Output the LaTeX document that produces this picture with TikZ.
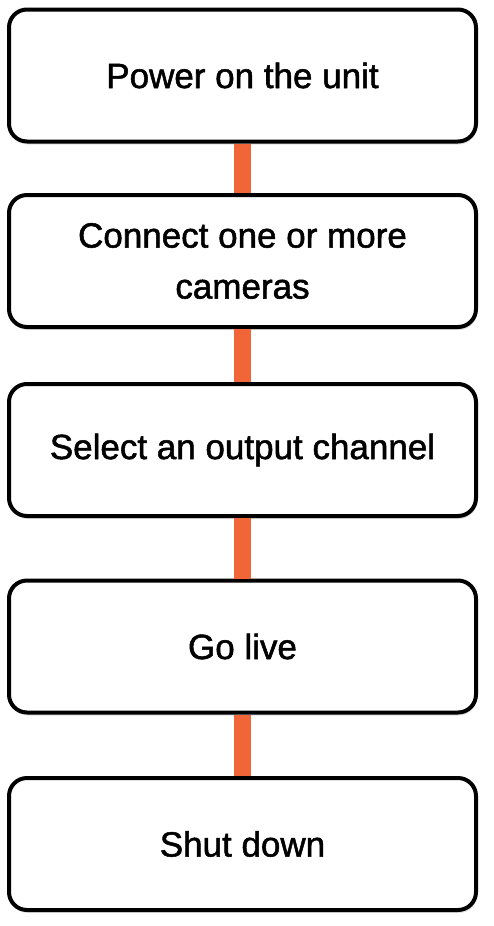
\documentclass[tikz,border=0pt]{standalone}
\usepackage{fontspec}
\setmainfont{Liberation Sans}
\newfontfamily\stepfont[FakeBold=1.5]{Liberation Sans}
\usepackage{xcolor}
\usetikzlibrary{positioning,shadows}
\definecolor{linkorange}{RGB}{242,101,57}

\tikzset{
  stepbox/.style={draw, line width=4pt, rounded corners=18pt, fill=white,
    minimum width=467pt, minimum height=132pt, align=center,
    font=\stepfont\fontsize{35}{51}\selectfont,
    drop shadow={shadow xshift=1pt, shadow yshift=-3pt, opacity=0.12, fill=black}},
  link/.style={draw=linkorange, line width=17pt}
}

\begin{document}
\begin{tikzpicture}[x=1pt,y=1pt]
        \useasboundingbox (0,0) rectangle (493,-926);
        % Steps
        \node[stepbox] (power) at (242.5,-75.5) {Power on the unit};
        \node[stepbox] (cams) at (242.5,-261) {Connect one or more\\cameras};
        \node[stepbox] (chan) at (242.5,-450) {Select an output channel};
        \node[stepbox] (live) at (242.5,-646.5) {Go live};
        \node[stepbox] (shut) at (242.5,-844) {Shut down};
        % Links
        \draw[link] (power.south) -- (cams.north);
        \draw[link] (cams.south) -- (chan.north);
        \draw[link] (chan.south) -- (live.north);
        \draw[link] (live.south) -- (shut.north);
    \end{tikzpicture}
\end{document}
